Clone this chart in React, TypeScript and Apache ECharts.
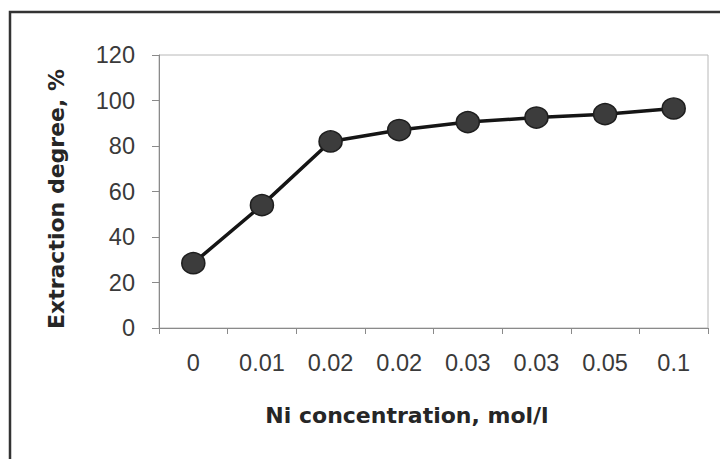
import React, { useEffect, useRef } from "react";
import * as echarts from "echarts";

const categories = ["0", "0.01", "0.02", "0.02", "0.03", "0.03", "0.05", "0.1"];
const extraction = [28.5, 54, 82, 87, 90.5, 92.5, 94, 96.5];
const yTicks = { min: 0, max: 120, interval: 20 };
const xTitle = "Ni concentration, mol/l";
const yTitle = "Extraction degree, %";

export default function App() {
  const ref = useRef<HTMLDivElement>(null);
  useEffect(() => {
    document.body.style.margin = "0";
    const chart = echarts.init(ref.current!, null, { renderer: "svg" });
    chart.setOption({
      animation: false,
      backgroundColor: "#ffffff",
      grid: {
        left: 159,
        right: 12,
        top: 55,
        bottom: 131,
        show: true,
        borderColor: "#b8b8b8",
        borderWidth: 1,
      },
      xAxis: {
        type: "category",
        data: categories,
        boundaryGap: true,
        axisLine: { show: true, lineStyle: { color: "#8a8a8a", width: 1 } },
        axisTick: { show: true, length: 6, lineStyle: { color: "#8a8a8a" } },
        axisLabel: {
          margin: 23,
          color: "#3a3a3a",
          fontSize: 23.5,
          fontFamily: "Liberation Sans, Arial, sans-serif",
          interval: 0,
        },
        splitLine: { show: false },
      },
      yAxis: {
        type: "value",
        min: yTicks.min,
        max: yTicks.max,
        interval: yTicks.interval,
        axisLine: { show: true, lineStyle: { color: "#8a8a8a", width: 1 } },
        axisTick: { show: true, length: 7, lineStyle: { color: "#8a8a8a" } },
        axisLabel: {
          margin: 24,
          color: "#3a3a3a",
          fontSize: 23.5,
          fontFamily: "Liberation Sans, Arial, sans-serif",
        },
        splitLine: { show: false },
      },
      series: [
        {
          type: "line",
          data: extraction,
          symbol: "circle",
          symbolSize: [23, 21],
          lineStyle: { color: "#151515", width: 3.5 },
          itemStyle: { color: "#3c3c3c", borderColor: "#1e1e1e", borderWidth: 1.5 },
          z: 3,
        },
      ],
      graphic: [
        {
          type: "rect",
          shape: { x: 10, y: 12, width: 730, height: 470 },
          style: { fill: "none", stroke: "#333", lineWidth: 2.5 },
          silent: true,
        },
        {
          type: "text",
          x: 407,
          y: 415,
          style: {
            text: xTitle,
            fill: "#262626",
            font: "bold 22px 'DejaVu Sans', sans-serif",
            align: "center",
            verticalAlign: "middle",
          },
        },
        {
          type: "text",
          x: 56,
          y: 199,
          rotation: Math.PI / 2,
          style: {
            text: yTitle,
            fill: "#262626",
            font: "bold 22px 'DejaVu Sans', sans-serif",
            align: "center",
            verticalAlign: "middle",
          },
        },
      ],
    });
    return () => chart.dispose();
  }, []);
  return <div ref={ref} style={{ width: 720, height: 459 }} />;
}
